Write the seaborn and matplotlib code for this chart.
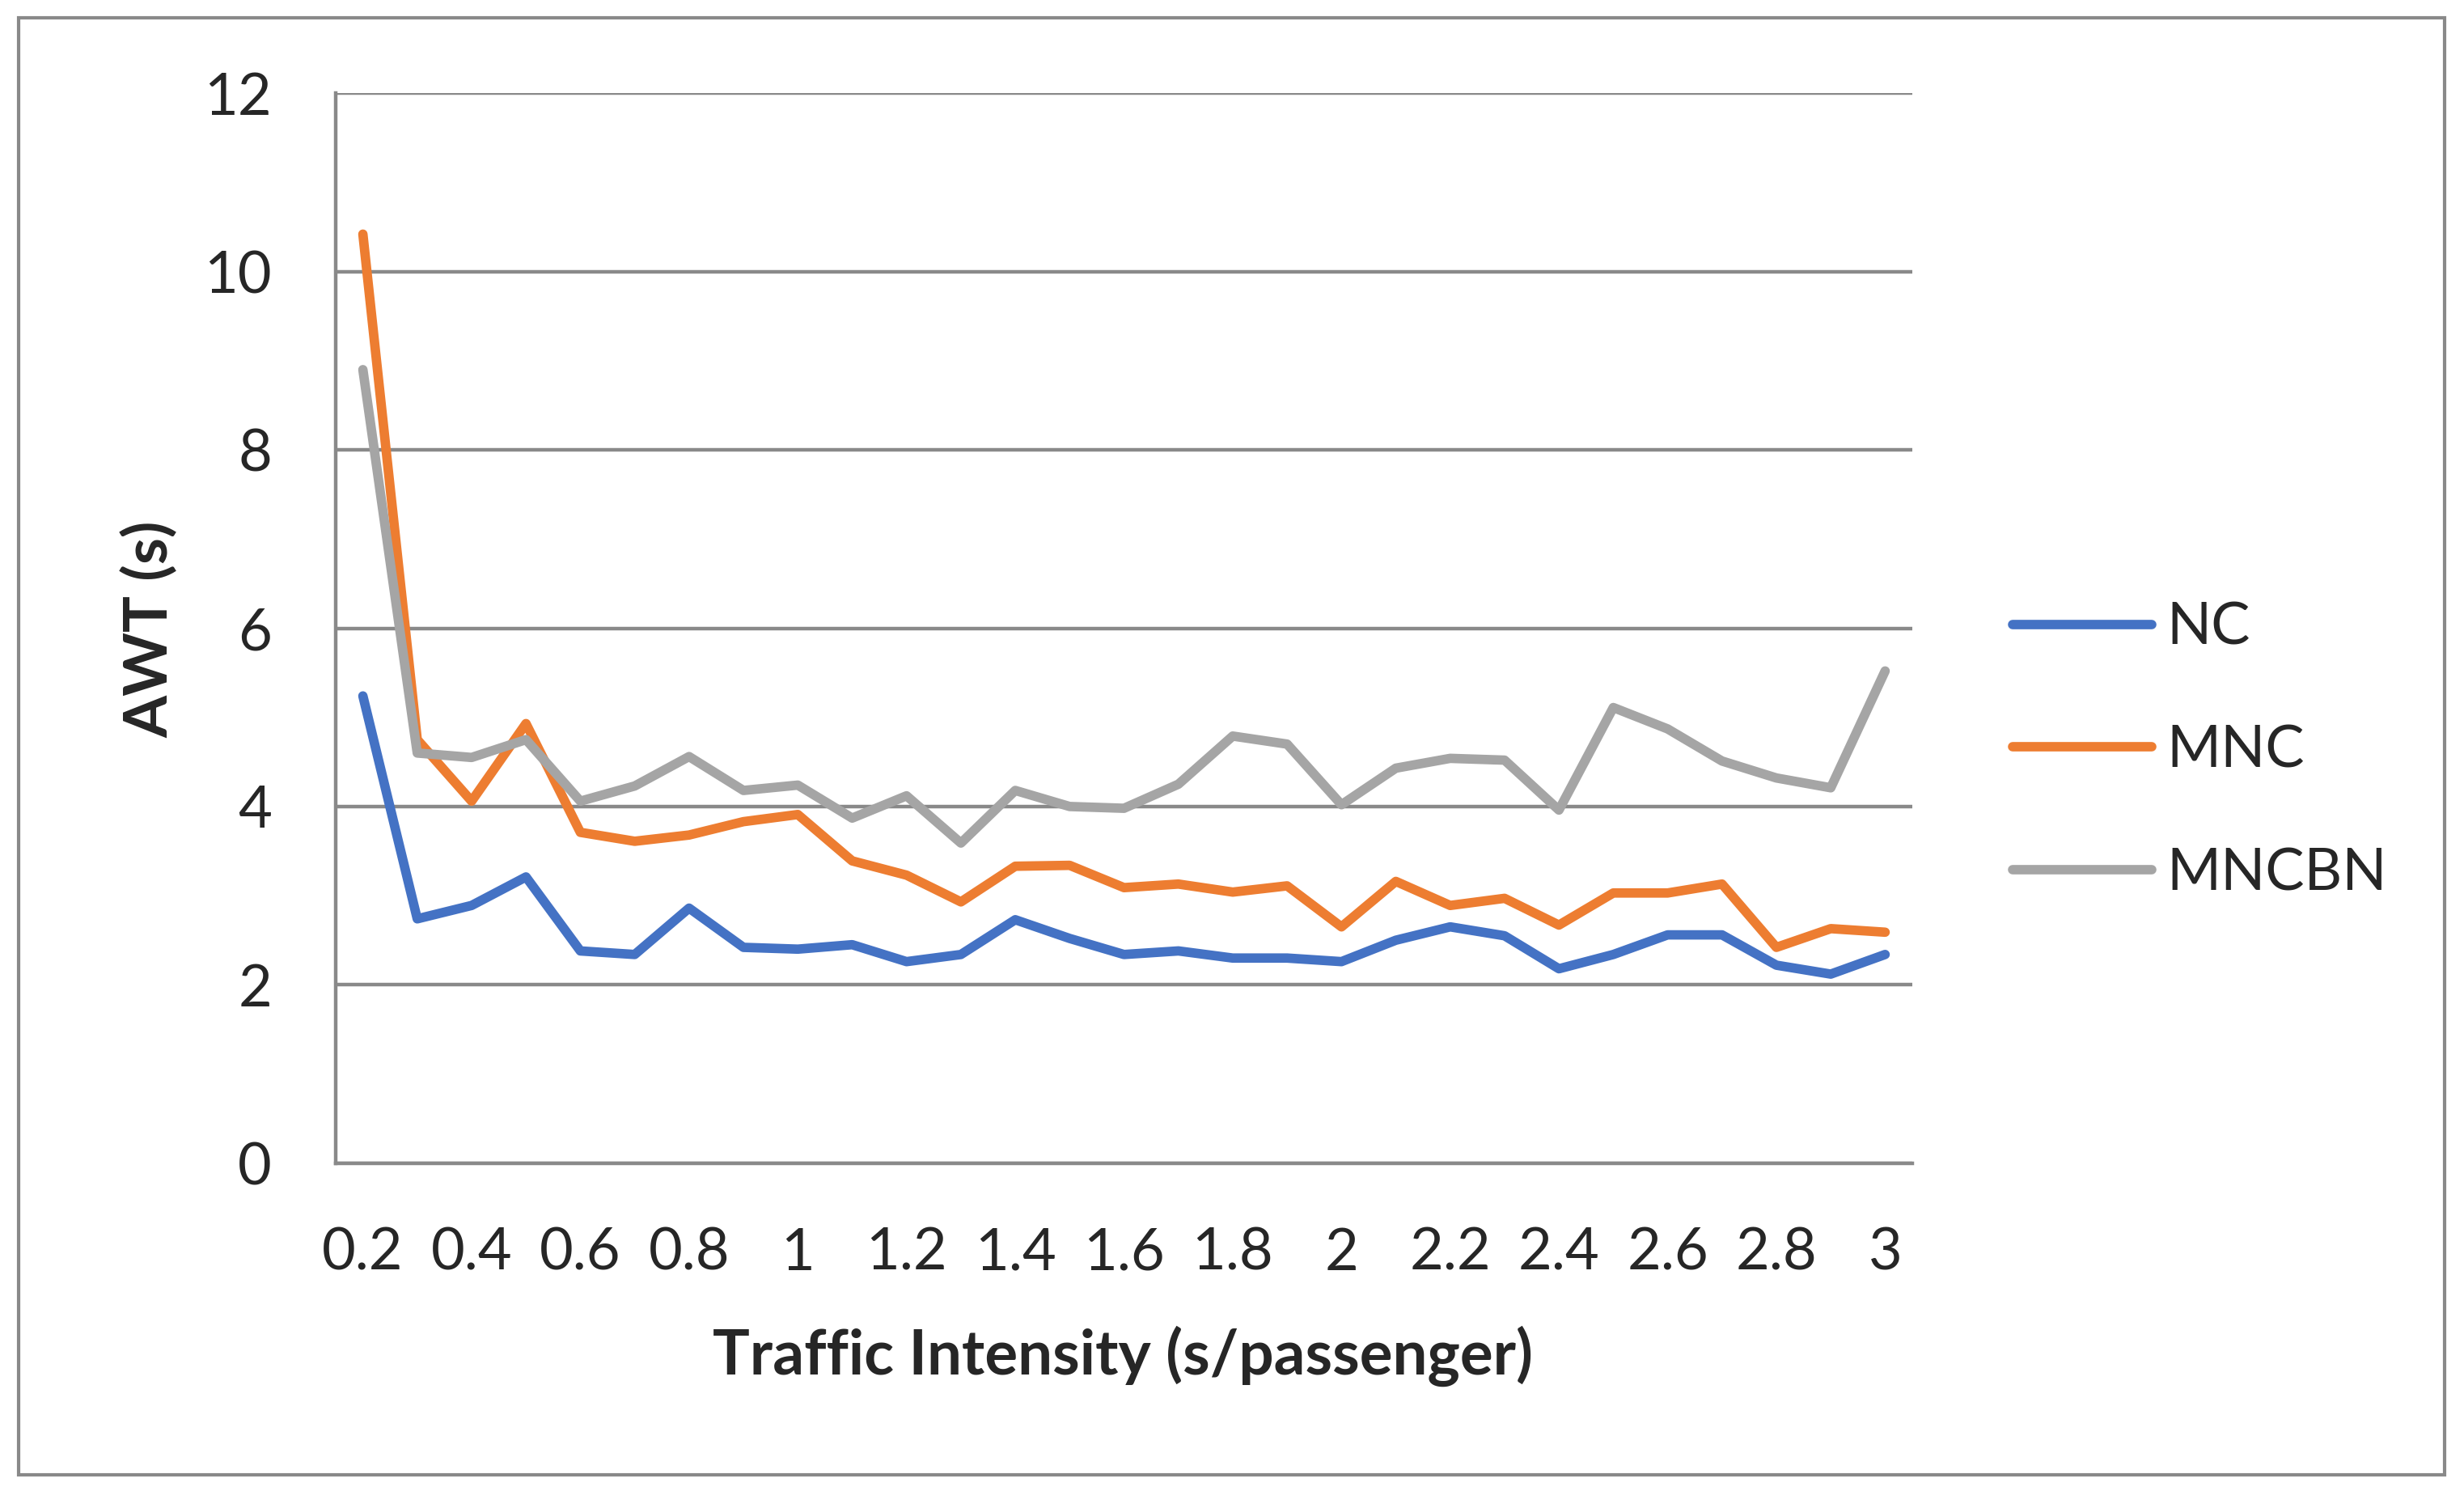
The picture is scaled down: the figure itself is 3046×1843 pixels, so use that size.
import numpy as np
import pandas as pd
import matplotlib
matplotlib.use("Agg")
import matplotlib.pyplot as plt
from matplotlib.lines import Line2D
from matplotlib.patches import Rectangle
import seaborn as sns

# category axis (traffic intensity, s/passenger)
intensity = ["0.2", "0.3", "0.4", "0.5", "0.6", "0.7", "0.8", "0.9", "1", "1.1",
             "1.2", "1.3", "1.4", "1.5", "1.6", "1.7", "1.8", "1.9", "2", "2.1",
             "2.2", "2.3", "2.4", "2.5", "2.6", "2.7", "2.8", "2.9", "3"]

# average waiting time (s) per method
nc = [5.24, 2.74, 2.89, 3.21, 2.38, 2.34, 2.86, 2.42, 2.40, 2.45,
      2.26, 2.34, 2.73, 2.52, 2.34, 2.38, 2.30, 2.30, 2.26, 2.50,
      2.65, 2.55, 2.18, 2.34, 2.56, 2.56, 2.22, 2.12, 2.34]
mnc = [10.42, 4.75, 4.06, 4.93, 3.71, 3.61, 3.68, 3.83, 3.91, 3.39,
       3.23, 2.93, 3.33, 3.34, 3.09, 3.13, 3.04, 3.11, 2.65, 3.16,
       2.89, 2.97, 2.67, 3.03, 3.03, 3.13, 2.42, 2.63, 2.59]
mncbn = [8.90, 4.60, 4.55, 4.75, 4.06, 4.23, 4.56, 4.18, 4.24, 3.87,
         4.12, 3.59, 4.18, 4.00, 3.98, 4.25, 4.79, 4.70, 4.02, 4.43,
         4.54, 4.52, 3.96, 5.11, 4.87, 4.51, 4.32, 4.21, 5.52]

series_names = ["NC", "MNC", "MNCBN"]
series_colors = ["#4472C4", "#ED7D31", "#A5A5A5"]
grey = "#898989"

sns.set_style("white")
plt.rcParams['font.family'] = ['Lato', 'DejaVu Sans']

n = len(intensity)
df = pd.DataFrame({
    "pos": list(range(n)) * 3,
    "AWT": nc + mnc + mncbn,
    "Series": [s for s in series_names for _ in range(n)],
})

W, H = 3046, 1843
fig = plt.figure(figsize=(W / 200, H / 200), dpi=200)
left, right, top, bottom = 415 / W, 2364 / W, 1 - 115.3 / H, 1 - 1437.7 / H
ax = fig.add_axes([left, bottom, right - left, top - bottom])

palette = dict(zip(series_names, series_colors))
sns.lineplot(data=df, x="pos", y="AWT", hue="Series", hue_order=series_names,
             palette=palette, linewidth=4.2, errorbar=None, legend=False, ax=ax,
             solid_capstyle="round", solid_joinstyle="round")

# axes, grid and ticks in the Excel look
ax.set_xlim(-0.5, n - 0.5)
ax.set_ylim(0, 12)
ax.set_yticks(range(0, 13, 2))
ax.yaxis.grid(True, color=grey, linewidth=1.6)
ax.set_axisbelow(True)
for side in ["top", "right"]:
    ax.spines[side].set_visible(False)
for side in ["left", "bottom"]:
    ax.spines[side].set_color(grey)
    ax.spines[side].set_linewidth(1.6)

ax.set_xticks(range(0, n, 2))
ax.set_xticklabels(intensity[::2])
ax.set_xticks(np.arange(-0.5, n, 1), minor=True)
ax.tick_params(axis="x", which="major", length=0, pad=28.5, labelsize=26)
ax.tick_params(axis="x", which="minor", length=9.7, width=1.6, color=grey)
ax.tick_params(axis="y", length=9.4, width=1.6, color=grey, pad=19, labelsize=26)
ax.set_xlabel("")
ax.set_ylabel("")

fig.text(1388 / W, 1 - 1676 / H, "Traffic Intensity (s/passenger)",
         fontsize=27.5, fontweight="bold", ha="center", va="center")
fig.text(185 / W, 1 - 778 / H, "AWT (s)", rotation=90,
         fontsize=27, fontweight="bold", ha="center", va="center")

handles = [Line2D([], [], color=c, linewidth=4.2, solid_capstyle="round")
           for c in series_colors]
ax.legend(handles, series_names, loc="center left",
          bbox_to_anchor=(2488 / W, 1 - 928 / H), bbox_transform=fig.transFigure,
          frameon=False, fontsize=26, handlelength=2.38, handletextpad=0.25,
          labelspacing=1.2, borderpad=0, borderaxespad=0)

# chart border
fig.patches.append(Rectangle((23 / W, 1 - 1823 / H), (3022 - 23) / W, (1823 - 22) / H,
                             transform=fig.transFigure, fill=False,
                             edgecolor=grey, linewidth=1.5))

fig.savefig("out.png", dpi=200)
